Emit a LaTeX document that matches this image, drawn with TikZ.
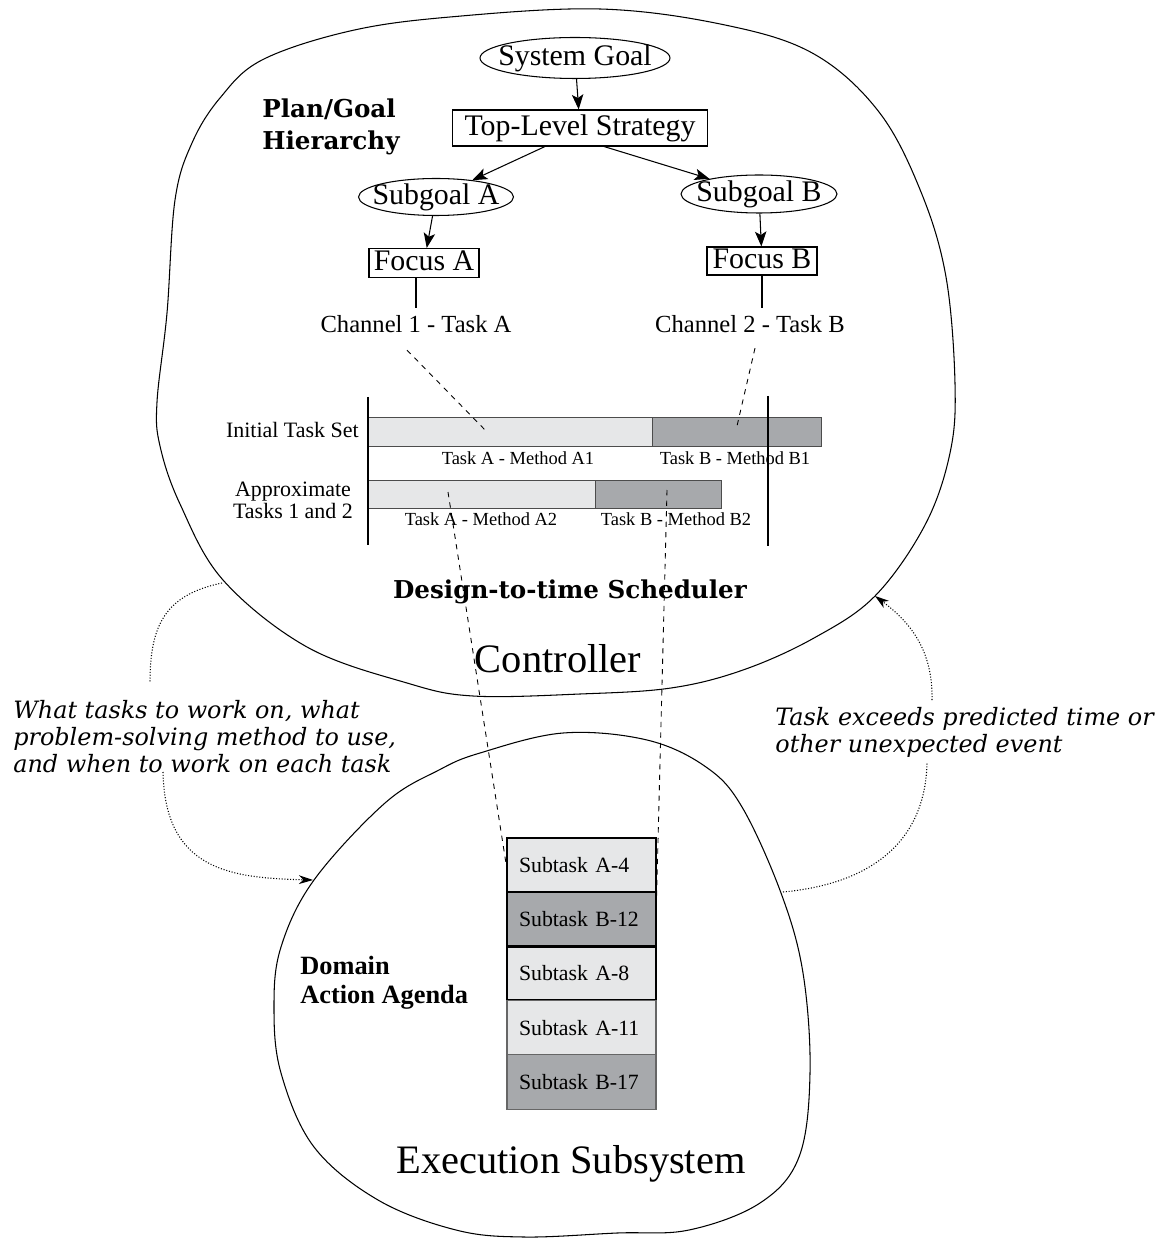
\documentclass[tikz,border=0pt]{standalone}
\usepackage{fontspec}
\setmainfont{Liberation Serif}
\newfontfamily\schfont{DejaVu Serif}
\usepackage{xcolor}
\usepackage{tikz}
\usetikzlibrary{positioning,shapes,arrows.meta}
\definecolor{lightbar}{HTML}{E6E7E8}
\definecolor{darkbar}{HTML}{A7A9AC}

\begin{document}
\begin{tikzpicture}[
            x=0.02cm, y=-0.02cm,
            goalnode/.style={ellipse, draw, line width=0.6pt, inner sep=-10pt, font=\fontsize{17}{20}\selectfont},
            stratnode/.style={rectangle, draw, line width=0.6pt, inner sep=0pt, text height=11.5pt, text depth=3.5pt, font=\fontsize{17}{20}\selectfont},
            chan/.style={inner sep=2pt, text height=12pt, text depth=3pt, font=\fontsize{14}{17}\selectfont},
            barA/.style={rectangle, draw=black!70, fill=lightbar, inner sep=0pt, outer sep=0pt, line width=0.5pt},
            barB/.style={barA, fill=darkbar},
            barlab/.style={inner sep=0pt, font=\fontsize{10.5}{12}\selectfont},
            rowlab/.style={inner sep=0pt, align=center, font=\fontsize{12.5}{10.6}\selectfont},
            subtask/.style={rectangle, outer sep=0pt, minimum width=2.98cm, minimum height=1.085cm,
                inner xsep=0.24cm, text width=2.5cm, align=left, font=\fontsize{12.4}{14}\selectfont},
            current/.style={draw=black, line width=1.3pt},
            later/.style={draw=black!60, line width=0.6pt},
            boldlab/.style={inner sep=0pt, align=left, font=\schfont\bfseries\fontsize{14}{18.7}\selectfont},
            itlab/.style={inner sep=0pt, align=left, font=\schfont\itshape\fontsize{13.6}{15.3}\selectfont},
            big/.style={inner sep=0pt, font=\fontsize{23}{27}\selectfont},
            tree/.style={line width=0.6pt, -{Stealth[length=8.5pt, width=6.5pt, inset=2pt]}},
            signal/.style={densely dotted, line width=0.6pt},
            auto
        ]
            \useasboundingbox (0,0) rectangle (1157,1239);

            % Controller and execution outlines
            \draw[line width=0.6pt] plot[smooth cycle, tension=0.6] coordinates {
                (262,60) (350,31) (450,17) (600,9) (725,25) (814,54) (879,112)
                (921,192) (946,277) (955,384) (950,453) (925,525) (875,596) (814,638)
                (743,670) (671,688) (580,694) (473,696) (407,683) (307,647) (223,580)
                (180,504) (160,446) (157,402) (167,313) (175,200) (192,143) (220,98)};
            \draw[line width=0.6pt] plot[smooth cycle, tension=0.6] coordinates {
                (563,733) (647,740) (706,767) (742,807) (781,893) (803,973) (810,1073)
                (799,1157) (760,1203) (689,1230) (617,1233) (524,1237) (456,1230)
                (378,1200) (314,1147) (281,1073) (274,1007) (281,947) (314,880)
                (385,803) (439,770) (480,753)};

            % Plan/goal hierarchy
            \node[boldlab, anchor=north west] (pgh) at (262,98) {Plan/Goal\\Hierarchy};
            \node[goalnode, minimum width=3.8cm, minimum height=0.82cm] (sg) at (575,58) {System Goal};
            \node[stratnode, minimum width=5.1cm, minimum height=0.72cm] (tls) at (580,128) {Top-Level Strategy};
            \node[goalnode, minimum width=3.1cm, minimum height=0.74cm] (sga) at (436,197) {Subgoal A};
            \node[goalnode, minimum width=3.12cm, minimum height=0.76cm] (sgb) at (759,194) {Subgoal B};
            \node[stratnode, minimum width=2.2cm, minimum height=0.58cm] (fa) at (424,263) {Focus A};
            \node[stratnode, minimum width=2.2cm, minimum height=0.56cm] (fb) at (762,261) {Focus B};
            \node[chan, anchor=base] (ch1) at (416,333) {Channel 1 - Task A};
            \node[chan, anchor=base] (ch2) at (750,333) {Channel 2 - Task B};

            \draw[tree] (sg) -- (tls);
            \draw[tree] ([xshift=-0.7cm]tls.south) -- (sga);
            \draw[tree] ([xshift=0.48cm]tls.south) -- (sgb);
            \draw[tree] (sga) -- (fa);
            \draw[tree] (sgb) -- (fb);
            \draw[line width=0.6pt] (fa.south -| ch1.north) -- (ch1.north);
            \draw[line width=0.6pt] (fb.south) -- (fb.south |- ch2.north);

            % Design-to-time scheduler
            \node[barA, minimum width=5.68cm, minimum height=0.58cm] (bA1) at (510,431.5) {};
            \node[barB, minimum width=3.38cm, minimum height=0.58cm, right=0pt of bA1] (bB1) {};
            \node[barA, minimum width=4.54cm, minimum height=0.56cm] (bA2) at (481.5,494) {};
            \node[barB, minimum width=2.52cm, minimum height=0.56cm, right=0pt of bA2] (bB2) {};
            \draw[line width=0.9pt] (368,397) -- (368,545);
            \draw[line width=1.2pt] (768,396) -- (768,546);

            \node[rowlab, anchor=base east] (its) at (359,438) {Initial Task Set};
            \node[rowlab, anchor=north] (apx) at (293,482) {Approximate\\Tasks 1 and 2};
            \node[barlab, anchor=base] (la1) at (518,464) {Task A - Method A1};
            \node[barlab, anchor=base] (lb1) at (735,464) {Task B - Method B1};
            \node[barlab, anchor=base] (la2) at (481,525) {Task A - Method A2};
            \node[barlab, anchor=base] (lb2) at (676,525) {Task B - Method B2};
            \node[boldlab, anchor=base] (dts) at (570,598) {Design-to-time Scheduler};
            \node[big, anchor=base] (ctl) at (558,672) {Controller};

            % Domain action agenda
            \node[subtask, current, fill=lightbar] (sa4) at (581.5,865) {Subtask A-4};
            \node[subtask, current, fill=darkbar, below=0pt of sa4] (sb12) {Subtask B-12};
            \node[subtask, current, fill=lightbar, below=0pt of sb12] (sa8) {Subtask A-8};
            \node[subtask, later, fill=lightbar, below=0pt of sa8] (sa11) {Subtask A-11};
            \node[subtask, later, fill=darkbar, below=0pt of sa11] (sb17) {Subtask B-17};
            \node[inner sep=0pt, anchor=north west, align=left, font=\bfseries\fontsize{15}{16.4}\selectfont] (daa) at (300,956) {Domain\\Action Agenda};
            \node[big, anchor=base] (exe) at (571,1173) {Execution Subsystem};

            % Mappings
            \coordinate (a1in) at (488,433);
            \coordinate (b1in) at (737,426);
            \coordinate (a2in) at (448,492);
            \coordinate (b2in) at (667,490);
            \draw[dashed, line width=0.5pt] ([xshift=-0.18cm, yshift=-0.16cm]ch1.south) -- (a1in);
            \draw[dashed, line width=0.5pt] ([xshift=0.1cm, yshift=-0.12cm]ch2.south) -- (b1in);
            \draw[dashed, line width=0.5pt] (a2in) -- ([yshift=-0.1cm]sa4.west);
            \draw[dashed, line width=0.5pt] (b2in) -- (sb12.east);

            % Feedback between controller and execution
            \node[itlab, anchor=north west] (what) at (13,700) {What tasks to work on, what\\problem-solving method to use,\\and when to work on each task};
            \node[itlab, anchor=north west] (exc) at (775,707) {Task exceeds predicted time or\\other unexpected event};
            \coordinate (ctlL) at (222,583);
            \coordinate (whatTop) at (150,683);
            \coordinate (whatBot) at (163,772);
            \coordinate (exeL) at (313,880);
            \coordinate (exeR) at (783,892);
            \coordinate (excBot) at (927,763);
            \coordinate (excTop) at (932,700);
            \coordinate (ctlR) at (875,596);
            \draw[signal] (ctlL) .. controls (165,595) and (150,625) .. (whatTop);
            \draw[signal, -{Stealth[length=8pt, width=5pt, inset=2.5pt]}] (whatBot) .. controls (165,870) and (230,878) .. (exeL);
            \draw[signal] (exeR) .. controls (860,885) and (925,850) .. (excBot);
            \draw[signal, -{Stealth[length=8pt, width=5pt, inset=2.5pt]}] (excTop) .. controls (933,650) and (910,622) .. (ctlR);
        \end{tikzpicture}
\end{document}
